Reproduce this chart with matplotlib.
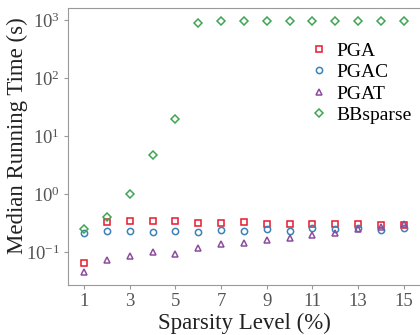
import matplotlib
matplotlib.use('Agg')
import matplotlib.pyplot as plt
from matplotlib.ticker import LogLocator, NullLocator

sparsity = list(range(1, 16))
pga = [0.065, 0.33, 0.34, 0.34, 0.34, 0.32, 0.32, 0.33, 0.30, 0.30, 0.31, 0.31, 0.30, 0.29, 0.29]
pgac = [0.21, 0.23, 0.23, 0.22, 0.235, 0.22, 0.24, 0.23, 0.25, 0.23, 0.26, 0.25, 0.26, 0.24, 0.26]
pgat = [0.045, 0.072, 0.087, 0.10, 0.093, 0.12, 0.14, 0.145, 0.16, 0.175, 0.20, 0.21, 0.25, 0.27, 0.30]
bbsparse = [0.25, 0.40, 1.0, 4.7, 19.6, 880, 960, 960, 960, 960, 960, 960, 960, 960, 960]
xticks = [1, 3, 5, 7, 9, 11, 13, 15]

plt.rcParams['font.family'] = ['Liberation Serif', 'DejaVu Serif']
plt.rcParams['mathtext.fontset'] = 'stix'

fig = plt.figure(figsize=(4.2, 3.35), dpi=100)
ax = fig.add_axes([0.162, 0.149, 0.84, 0.827])

mk = dict(linestyle='none', markersize=4.5, markeredgewidth=1.1, markerfacecolor='none')
ax.plot(sparsity, pga, marker='s', color='#e8192c', label='PGA', **mk)
ax.plot(sparsity, pgac, marker='o', color='#3b82b6', label='PGAC', **mk)
ax.plot(sparsity, pgat, marker='^', color='#8a4d9e', label='PGAT', **mk)
ax.plot(sparsity, bbsparse, marker='D', color='#3fa552', label='BBsparse',
        linestyle='none', markersize=4, markeredgewidth=1.1, markerfacecolor='none')

ax.set_yscale('log')
ax.set_xlim(0.3, 15.75)
ax.set_ylim(0.027, 1610)
ax.set_xticks(xticks)
ax.yaxis.set_major_locator(LogLocator(base=10, numticks=10))
ax.yaxis.set_minor_locator(NullLocator())

for s in ['left', 'bottom', 'top']:
    ax.spines[s].set_color('#999999')
ax.spines['right'].set_visible(False)
ax.tick_params(axis='both', direction='out', length=3, color='#999999',
               labelsize=13.5, labelcolor='#555555', pad=3)

ax.set_xlabel('Sparsity Level (%)', fontsize=16.5, color='#222222', labelpad=2)
ax.set_ylabel('Median Running Time (s)', fontsize=16.5, color='#222222')
ax.yaxis.set_label_coords(-0.113, 0.538)

ax.legend(loc='upper right', bbox_to_anchor=(0.995, 0.905), frameon=False, fontsize=14,
          handletextpad=0.3, labelspacing=0.2, handlelength=1.2, borderaxespad=0)

fig.savefig('out.png', dpi=100)
